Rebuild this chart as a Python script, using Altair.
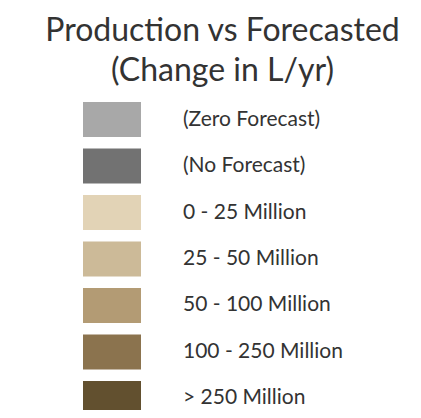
import altair as alt
import pandas as pd

labels = ["(Zero Forecast)", "(No Forecast)", "0 - 25 Million", "25 - 50 Million",
          "50 - 100 Million", "100 - 250 Million", "> 250 Million"]
colors = ["#a8a8a8", "#727272", "#e2d3b6", "#ccba98", "#b39b74", "#8b734e", "#62502f"]
title_lines = ["Production vs Forecasted", "(Change in L/yr)"]

df = pd.DataFrame({"label": labels, "color": colors})

y_enc = alt.Y("label:N", sort=labels, axis=None,
              scale=alt.Scale(range=[0, 314], paddingInner=0.247, paddingOuter=0))

swatches = alt.Chart(df).mark_rect().encode(
    y=y_enc,
    x=alt.value(75), x2=alt.value(133),
    color=alt.Color("color:N", scale=None),
)

texts = alt.Chart(df).mark_text(align="left", baseline="middle", font="Lato",
                                fontSize=21, color="#333333").encode(
    y=y_enc,
    x=alt.value(175),
    text="label:N",
)

chart = alt.layer(swatches, texts).properties(
    width=405, height=308,
    background="white",
    title=alt.TitleParams(title_lines, font="Lato", fontSize=32, fontWeight="normal",
                          color="#333333", anchor="middle", lineHeight=40, offset=14, dx=12),
    autosize=alt.AutoSizeParams(type="none"),
    padding={"top": 94, "left": 0, "right": 0, "bottom": 0},
).configure_view(stroke=None)

chart.save("out.html", embed_options={"renderer": "svg", "actions": False})
